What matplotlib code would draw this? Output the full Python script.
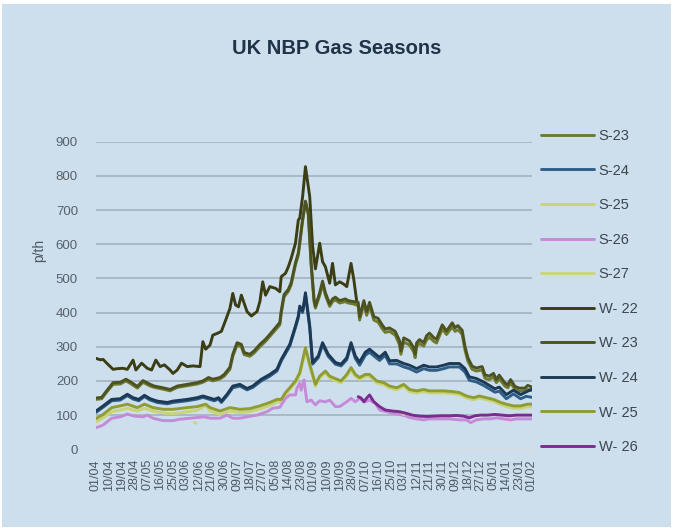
import matplotlib
matplotlib.use("Agg")
import matplotlib.pyplot as plt
from matplotlib.patches import Rectangle
import numpy as np
import pandas as pd

# ---------------- data (days counted from 01/04/2022) ----------------
start_date = "2022-04-01"
end_date = "2023-02-01"

w22_days = [0,3,5,8,12,15,19,22,26,28,32,36,39,42,45,48,52,54,57,60,64,68,73,75,77,80,82,85,88,91,
            94,96,98,100,102,106,109,113,115,117,119,122,126,129,130,133,135,137,140,142,143,145,147,150,152,154,157,159,161,164,
            166,168,171,174,176,179,181,183]
w22_vals = [266,262,263,250,234,236,237,234,261,232,252,237,232,261,242,247,232,222,232,252,242,244,242,315,293,305,334,339,345,378,
            412,456,422,417,451,403,390,403,432,490,451,476,471,461,505,515,534,559,603,671,676,739,827,739,595,528,603,549,534,486,
            544,481,490,483,476,544,495,432]

p23_days = [0,4,8,12,17,21,24,29,33,38,41,47,52,57,64,71,75,79,82,87,90,94,96,99,102,104,108,111,115,119,
            124,129,130,132,135,137,140,142,145,147,149,151,153,154,157,159,161,164,166,168,171,175,177,181,184,185,188,190,192,195,
            198,201,203,206,210,213,214,216,220,223,224,225,227,230,232,234,237,239,243,246,250,252,254,257,259,261,264,267,271,273,
            276,279,281,283,287,289,291,294,297,301,303,306]
w23_vals = [150,152,174,195,196,205,198,184,201,190,185,180,175,185,190,195,200,210,205,210,219,240,278,312,307,283,278,288,307,322,
            346,371,405,453,468,488,546,575,673,726,692,546,440,419,458,492,458,425,440,445,435,440,435,432,430,388,435,402,430,388,
            383,363,352,355,345,318,288,326,317,297,278,311,321,312,332,340,327,322,364,346,370,356,362,348,300,268,243,238,242,218,
            214,222,204,217,194,189,204,184,179,179,187,182]
s23_vals = [146,148,170,190,191,200,193,179,196,185,181,176,171,181,186,191,196,205,200,206,214,234,272,305,300,277,272,282,300,316,
            340,364,398,446,462,481,540,568,668,722,686,538,432,413,450,485,450,418,432,437,428,432,428,425,420,378,424,392,420,378,
            372,352,342,345,334,306,278,314,305,285,268,300,310,302,320,328,316,311,352,336,358,345,350,336,290,258,234,229,232,208,
            204,212,195,206,185,180,194,176,170,171,175,172]

p24_days = [0,5,11,17,22,26,30,34,38,43,50,54,64,71,75,79,83,86,88,92,96,101,106,110,116,122,127,130,136,140,
            142,143,145,146,147,150,152,156,159,163,168,172,176,179,182,185,189,192,196,199,203,206,211,216,220,225,230,234,239,244,
            248,255,259,262,267,272,276,280,283,288,293,298,302,306]
w24_vals = [112,127,146,148,161,151,146,158,148,141,137,141,146,151,156,151,146,151,141,161,185,190,178,185,205,219,234,263,307,361,
            390,419,405,429,458,361,254,273,312,278,254,249,268,312,273,255,284,293,279,269,284,259,260,251,246,236,246,241,241,246,
            251,251,236,212,207,197,187,177,182,160,173,160,168,176]
s24_vals = [108,123,142,144,157,147,142,154,144,137,133,137,142,147,152,147,142,147,137,157,180,185,174,181,200,214,229,258,302,356,
            385,414,400,424,452,356,249,268,306,272,249,244,262,306,266,246,275,284,270,260,275,250,250,241,236,226,236,231,231,236,
            241,241,226,202,197,187,177,167,170,148,162,148,155,152]

p25_days = [0,5,11,17,22,29,34,40,47,54,64,71,77,80,87,94,101,108,115,122,127,130,133,136,140,143,147,150,154,157,
            161,164,169,172,176,179,182,185,189,192,197,202,206,211,216,220,225,230,234,239,244,250,255,260,265,269,274,279,284,288,
            293,298,303,306]
w25_vals = [90,102,122,127,132,122,132,122,117,117,122,125,132,122,112,122,117,119,127,137,146,146,166,180,200,224,297,249,190,214,
            229,214,205,200,219,239,219,210,219,219,200,195,185,180,190,175,171,175,171,171,171,169,166,156,151,156,151,146,137,132,
            127,127,132,132]
s25_vals = [80,92,110,115,120,112,120,112,106,104,110,114,128,112,102,112,108,110,118,128,138,140,160,175,195,218,290,243,184,208,
            223,208,199,194,213,233,213,204,213,213,194,189,179,174,184,169,165,169,165,165,165,163,160,150,145,150,145,140,131,125,
            120,120,124,124]

s26_days = [0,5,11,17,22,27,33,36,40,47,54,59,66,76,80,87,92,96,101,106,113,120,124,129,133,136,140,141,143,144,
            146,148,151,154,157,161,164,168,171,176,179,182,185,189,192,196,199,204,209,213,217,220,225,230,234,239,244,248,255,260,
            263,267,272,277,281,286,291,295,302,306]
s26_vals = [63,71,91,95,103,97,95,100,91,84,84,88,91,95,91,91,100,91,91,95,100,110,120,123,149,159,159,178,193,173,
            203,139,144,130,142,139,144,125,125,139,149,139,149,139,144,135,115,110,105,102,98,93,89,86,89,89,89,89,86,86,
            78,86,89,89,92,89,86,89,89,89]

s27_days = [69, 70, 140, 215, 216]
s27_vals = [79, 76, np.nan, 105, 101]

w26_days = [184,186,188,190,192,195,199,203,208,213,218,222,227,232,237,242,248,253,258,262,266,270,275,280,285,290,295,300,306]
w26_vals = [154,150,139,150,159,139,125,115,112,110,105,100,97,96,97,98,98,99,97,92,98,100,100,102,100,98,100,100,100]

series_names = ["S-23", "S-24", "S-25", "S-26", "S-27", "W- 22", "W- 23", "W- 24", "W- 25", "W- 26"]
series_days = [p23_days, p24_days, p25_days, s26_days, s27_days, w22_days, p23_days, p24_days, p25_days, w26_days]
series_vals = [s23_vals, s24_vals, s25_vals, s26_vals, s27_vals, w22_vals, w23_vals, w24_vals, w25_vals, w26_vals]
series_colors = ["#6e7b2e", "#2f5f88", "#c9d478", "#c68bd8", "#cad67e",
                 "#3b3d14", "#4d5222", "#1c3a56", "#8e9c33", "#7a2d8e"]

y_ticks = [0, 100, 200, 300, 400, 500, 600, 700, 800, 900]

# ---------------- drawing ----------------
bg = "#cddfec"
W, H = 673, 528
fig = plt.figure(figsize=(W / 100, H / 100), dpi=100)
fig.patch.set_facecolor("white")
fig.patches.append(Rectangle((2 / W, 1 / H), 669 / W, 523 / H, transform=fig.transFigure,
                             facecolor=bg, edgecolor="none", zorder=-10))

ax = fig.add_axes([96 / W, 1 - 449.3 / H, 436 / W, (449.3 - 141.7) / H])
ax.set_facecolor("none")

start = pd.Timestamp(start_date)
end = pd.Timestamp(end_date)

handles = []
for name, d, v, c in zip(series_names, series_days, series_vals, series_colors):
    dates = start + pd.to_timedelta(np.array(d), unit="D")
    (ln,) = ax.plot(dates, np.array(v, dtype=float), color=c, lw=2.1, label=name,
                    solid_joinstyle="round", solid_capstyle="round", zorder=3)
    handles.append(ln)

ax.set_xlim(start, end)
ax.set_ylim(0, 900)
ax.set_yticks(y_ticks)
for yv in y_ticks:
    if yv == 0:
        ax.axhline(yv, color="#d9dcdf", lw=1.6, zorder=1)
    else:
        ax.axhline(yv, color="#a8b8c8", lw=1.4, zorder=1)

xt = pd.date_range(start, end, freq="9D")
ax.set_xticks(xt)
ax.set_xticklabels([t.strftime("%d/%m") for t in xt], rotation=90, fontsize=9,
                   color="#4d5864", family="Liberation Sans", va="top")
ax.set_yticklabels([str(v) for v in y_ticks], fontsize=9.5, color="#56616c", family="Liberation Sans")
ax.tick_params(axis="both", length=0)
ax.tick_params(axis="y", pad=13)
ax.tick_params(axis="x", pad=7)
for s in ax.spines.values():
    s.set_visible(False)

fig.text(0.5, 1 - 48 / H, "UK NBP Gas Seasons", ha="center", va="center",
         fontsize=14.5, fontweight="bold", color="#1f3349", family="Liberation Sans")
fig.text(39 / W, 1 - 250 / H, "p/th", rotation=90, ha="center", va="center",
         fontsize=10, color="#4d5864", family="Liberation Sans")

leg = fig.legend(handles=handles, loc="upper left", bbox_to_anchor=(541 / W, 1 - 129 / H),
                 frameon=False, handlelength=3.6, handletextpad=0.35,
                 labelspacing=1.41, borderpad=0, borderaxespad=0,
                 prop={"family": "Liberation Sans", "size": 10.5})
for t in leg.get_texts():
    t.set_color("#3d4650")

fig.savefig("out.png", dpi=100, facecolor=fig.get_facecolor())
